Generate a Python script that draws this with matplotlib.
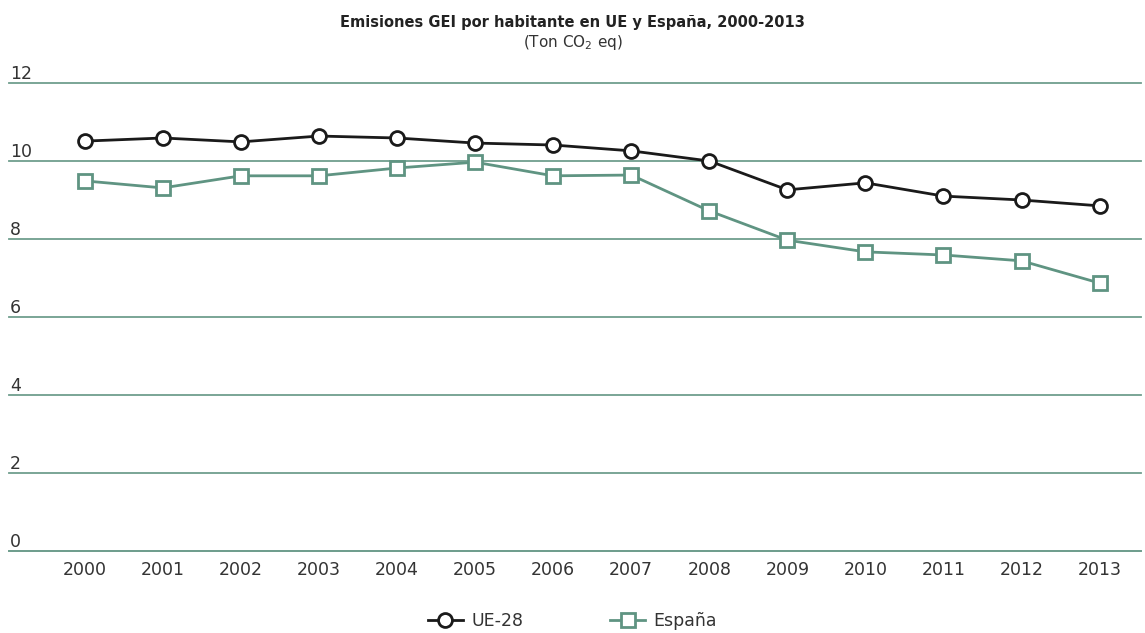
import matplotlib.pyplot as plt
import matplotlib.transforms as mtransforms

anios = ['2000', '2001', '2002', '2003', '2004', '2005', '2006',
         '2007', '2008', '2009', '2010', '2011', '2012', '2013']
ue28 = [10.51, 10.59, 10.49, 10.64, 10.59, 10.46, 10.41,
        10.26, 10.0, 9.26, 9.44, 9.10, 9.0, 8.85]
espana = [9.49, 9.31, 9.62, 9.62, 9.82, 9.97, 9.62,
          9.64, 8.72, 7.97, 7.67, 7.59, 7.44, 6.87]
marcas_y = [0, 2, 4, 6, 8, 10, 12]

color_verde = '#5f9482'
color_rejilla = '#6f9e8e'
fuente = dict(family='DejaVu Sans')

fig = plt.figure(figsize=(11.45, 6.33), dpi=100)
ax = fig.add_axes([9 / 1145, 82 / 633, 1132 / 1145, 468 / 633])

x = list(range(len(anios)))
ax.plot(x, ue28, color='#1a1a1a', lw=2, marker='o', ms=10,
        mfc='white', mec='#1a1a1a', mew=2, label='UE-28', zorder=3)
ax.plot(x, espana, color=color_verde, lw=2, marker='s', ms=9.5,
        mfc='white', mec=color_verde, mew=2, label='España', zorder=3)

ax.set_ylim(0, 12)
ax.set_xlim(-0.97, 13.53)
ax.set_yticks(marcas_y)
ax.yaxis.grid(True, color=color_rejilla, lw=1.3)
for gl in ax.get_ygridlines():
    gl.set_clip_on(False)
ax.set_axisbelow(True)
ax.tick_params(axis='y', length=0, labelleft=False)
ax.tick_params(axis='x', length=0, pad=7)
ax.set_xticks(x)
ax.set_xticklabels(anios, fontsize=12.5, color='#333333', **fuente)
for lado in ['top', 'right', 'left']:
    ax.spines[lado].set_visible(False)
ax.spines['bottom'].set_color(color_rejilla)
ax.spines['bottom'].set_linewidth(1.3)

trans = mtransforms.blended_transform_factory(ax.transAxes, ax.transData)
for v in marcas_y:
    ax.text(0.001, v + 0.09, str(v), transform=trans, fontsize=12.5,
            color='#333333', ha='left', va='baseline', **fuente)

fig.text(0.5, 0.964, 'Emisiones GEI por habitante en UE y España, 2000-2013',
         ha='center', va='center', fontsize=10.5, fontweight='bold',
         color='#222222', **fuente)
fig.text(0.5, 0.933, '(Ton CO$_2$ eq)', ha='center', va='center',
         fontsize=11, color='#333333', **fuente)

leg = fig.legend(loc='center', bbox_to_anchor=(0.5, 0.019), ncol=2,
                 frameon=False, prop=dict(family='DejaVu Sans', size=12.5),
                 handlelength=2.0, columnspacing=5, handletextpad=0.5)
for t in leg.get_texts():
    t.set_color('#333333')

fig.savefig('out.png', dpi=100)
